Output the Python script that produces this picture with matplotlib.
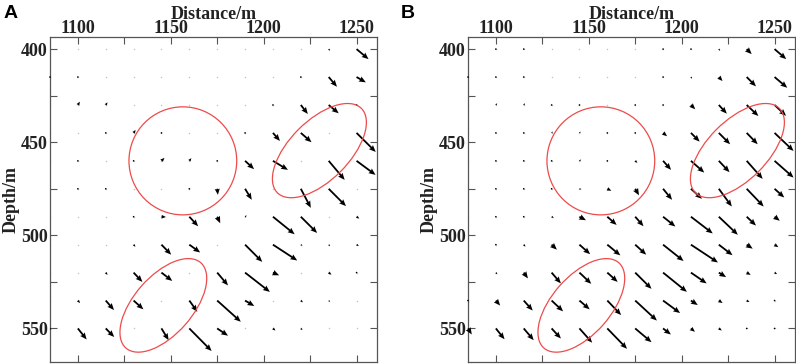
import numpy as np
import matplotlib
matplotlib.use("Agg")
from matplotlib import pyplot as plt
from matplotlib.patches import Ellipse
from matplotlib.ticker import MultipleLocator, FixedLocator

plt.rcParams['font.family'] = ['Liberation Serif', 'DejaVu Serif']

# grid of the displacement field
dist = np.arange(1085, 1251, 15)      # m, 12 columns
depth = np.arange(400, 551, 15)       # m, 11 rows

# vector components (arbitrary units, v positive = downwards)
U_A = [[0, 0, 0, 0, 0, 0, 0, 0, 0, 0, 1.3, 12.0],
       [0.3, 0.7, 0, 0, 0, 0, 0, 0, 0, 0.7, 8.3, 9.3],
       [0, 2.0, 1.7, 0, 0, 0, 0, 0, 0.7, 7.0, 10.0, 0.7],
       [0, 0, 1.3, 2.0, 0.7, 0, 0, 0.7, 7.0, 10.7, 0, 19.2],
       [0, 0.7, 0, 0.5, 3.0, 2.0, 0.5, 9.0, 15.0, 0, 16.0, 19.0],
       [0, 0.5, 0.5, 0, 0, 0.5, 0.7, 6.7, 0, 10.0, 17.3, 0],
       [0, 0, 0, 0.7, 4.5, 8.8, 3.0, 1.7, 21.7, 16.3, 0, 2.8],
       [0, 0, 0, 1.8, 9.7, 10.8, 0, 17.2, 24.3, 1.7, 1.3, 2.3],
       [0, 0, 1.8, 8.8, 10.8, 0, 10.8, 24.8, 6.2, 0, 2.8, 0.5],
       [0, 2.2, 8.3, 9.8, 0, 8.0, 23.6, 9.2, 0, 2.1, 1.3, 0],
       [1.5, 8.8, 8.5, 0, 7.2, 22.3, 10.8, 0, 2.5, 1.7, 0, 0]]
V_A = [[0, 0, 0, 0, 0, 0, 0, 0, 0, 0, 1.7, 10.0],
       [1.2, 0.5, 0, 0, 0, 0, 0, 0, 0, 0.5, 9.7, 5.3],
       [0, -3.3, -2.7, 0, 0, 0, 0, 0, 0.5, 9.0, 8.3, 0.7],
       [0, 0, -0.7, -3.0, 0.3, 0, 0, 0.5, 8.0, 9.3, 0, 19.0],
       [0, 0.5, 0, 0.5, -3.0, -2.7, 0.5, 8.3, 9.0, 0, 19.0, 14.0],
       [0, 0.5, 0.5, 0, 0, 0.5, 6.0, 11.0, 0, 19.0, 17.3, 0],
       [0, 0, 0, 0.7, 0.3, 9.5, 6.5, -1.3, 17.5, 16.2, 0, 1.8],
       [0, 0, 0, 2.1, 10.0, 7.8, 0, 17.2, 15.8, 1.0, 1.5, 1.3],
       [0, 0, 2.3, 9.3, 8.3, 0, 12.8, 19.3, 2.7, 0, 2.1, 0.5],
       [0, 2.5, 9.5, 8.8, 0, 11.3, 21.2, 5.5, 0, 1.8, 1.3, 0],
       [1.0, 11.0, 8.5, 0, 11.7, 22.5, 7.2, 0, 2.1, 1.6, 0, 0]]

U_B = [[0, 0.6, 0.6, 0, 0, 0, 0, 0.6, 0.6, 1.3, 5.0, 11.7],
       [0.6, 0.7, 0.6, 0, 0, 0, 0, 0.6, 1.0, 3.7, 9.3, 12.7],
       [0, 1.3, 1.3, 0.6, 0.6, 0, 0.6, 0.7, 4.3, 8.0, 11.7, 11.5],
       [0, 0.6, 0.7, 1.3, 1.3, 0.6, 0.6, 4.0, 8.7, 11.3, 11.0, 19.0],
       [0, 0.6, 0.6, 0.7, 1.7, 1.3, 2.2, 8.0, 13.3, 10.7, 16.0, 19.0],
       [0, 0.6, 0.6, 0.6, 2.0, 4.0, 3.8, 9.0, 11.0, 13.0, 17.0, 9.7],
       [0, 0.6, 0.6, 2.3, 6.5, 9.3, 8.3, 12.3, 21.8, 19.0, 9.3, 5.2],
       [0, 0.6, 1.7, 5.3, 10.7, 13.0, 11.0, 20.5, 27.0, 13.7, 6.0, 3.8],
       [0, 1.5, 4.2, 9.3, 11.8, 10.3, 16.3, 23.8, 15.7, 7.3, 4.0, 2.5],
       [0.6, 4.3, 9.0, 11.5, 10.2, 13.8, 21.7, 17.0, 6.8, 3.8, 2.8, 1.0],
       [3.8, 8.7, 10.0, 9.3, 12.7, 19.7, 16.3, 7.8, 4.0, 3.0, 1.3, 0.6]]
V_B = [[0, 0.5, 0.5, 0, 0, 0, 0, 0.5, 0.5, 1.7, 5.0, 10.0],
       [0.5, 0.3, 0.5, 0, 0, 0, 0, 0.5, 1.7, 4.0, 9.3, 10.7],
       [0, -1.7, -1.7, 0.5, 0.5, 0, 0.5, 0.7, 4.3, 8.7, 11.0, 10.8],
       [0, 0.5, -0.7, -1.3, -1.3, 0.5, 0.5, 3.3, 8.7, 11.3, 11.3, 18.0],
       [0, 0.5, 0.5, -0.7, -1.3, -0.3, 2.0, 9.0, 11.7, 11.3, 18.0, 16.7],
       [0, 0.5, 0.5, 0.5, 0.5, 2.0, 6.5, 11.0, 10.0, 17.7, 17.7, 8.7],
       [0, 0.5, 0.5, 1.0, 3.5, 8.2, 9.5, 9.8, 16.7, 18.0, 8.8, 4.0],
       [0, 0.5, 2.0, 5.0, 9.5, 10.7, 10.0, 16.3, 17.8, 10.5, 4.0, 2.5],
       [0, 1.7, 5.8, 10.8, 11.2, 9.3, 16.2, 19.2, 10.8, 4.5, 2.3, 1.5],
       [0.5, 5.0, 10.0, 10.8, 8.8, 14.5, 20.0, 12.5, 4.5, 2.5, 1.5, 0.6],
       [6.0, 10.8, 11.7, 10.0, 14.2, 20.3, 13.7, 6.0, 3.3, 2.0, 0.8, 0.4]]

# marked zones: (x centre, depth centre, semi-major, semi-minor, angle deg)
zones = [(1156.5, 460.0, 29.0, 29.0, 0.0),
         (1230.0, 454.5, 32.0, 16.0, -45.0),
         (1146.0, 537.6, 30.5, 15.7, -48.6)]

fig = plt.figure(figsize=(7.96, 3.64), dpi=100)
axA = fig.add_axes([50/796, 2/364, 327/796, 325/364])
axB = fig.add_axes([468/796, 2/364, 327/796, 325/364])

X, Y = np.meshgrid(dist, depth)


def panel(ax, U, V, letter, xl):
    U = np.array(U, dtype=float)
    V = np.array(V, dtype=float)
    mag = np.hypot(U, V)
    ax.scatter(X.ravel(), Y.ravel(), s=1.2, color="#c4c4c4", linewidths=0, zorder=1)
    Um = np.ma.masked_where(mag == 0, U)
    Vm = np.ma.masked_where(mag == 0, V)
    ax.quiver(X, Y, Um, Vm, angles="xy", scale_units="xy", scale=1.86,
              units="dots", width=1.8, headwidth=3.2, headlength=3.8,
              headaxislength=3.4, color="black", zorder=3, clip_on=False)
    for cx, cy, a, b, ang in zones:
        ax.add_patch(Ellipse((cx, cy), 2*a, 2*b, angle=ang, fill=False,
                             edgecolor="#ee4b4b", lw=0.9, zorder=4))
    ax.set_xlim(1085, 1261)
    ax.set_ylim(568, 393.5)
    ax.xaxis.set_major_locator(FixedLocator([1100, 1150, 1200, 1250]))
    ax.xaxis.set_minor_locator(FixedLocator([1125, 1175, 1225]))
    ax.yaxis.set_major_locator(MultipleLocator(50))
    ax.yaxis.set_minor_locator(FixedLocator([425, 475, 525]))
    ax.xaxis.tick_top()
    ax.xaxis.set_label_position("top")
    ax.tick_params(which="both", direction="in", top=True, bottom=True,
                   left=True, right=True, length=5, width=0.8, color="#555555",
                   labelsize=13, labelcolor="#222222")
    ax.tick_params(axis="x", pad=0)
    ax.tick_params(axis="y", pad=1.5)
    for t in ax.get_xticklabels() + ax.get_yticklabels():
        t.set_fontweight("bold")
    for s in ax.spines.values():
        s.set_color("#555555")
        s.set_linewidth(0.9)
    ax.set_xlabel("Distance/m", fontsize=13, fontweight="bold", color="#222222", labelpad=0.5)
    ax.set_ylabel("Depth/m", fontsize=13, fontweight="bold", color="#222222", labelpad=1)
    fig.text(xl, 0.985, letter, ha="left", va="top", fontsize=14, fontweight="bold",
             family=["Liberation Sans", "DejaVu Sans"])


panel(axA, U_A, V_A, "A", 0.004)
panel(axB, U_B, V_B, "B", 0.504)

fig.savefig("out.png", dpi=100)
